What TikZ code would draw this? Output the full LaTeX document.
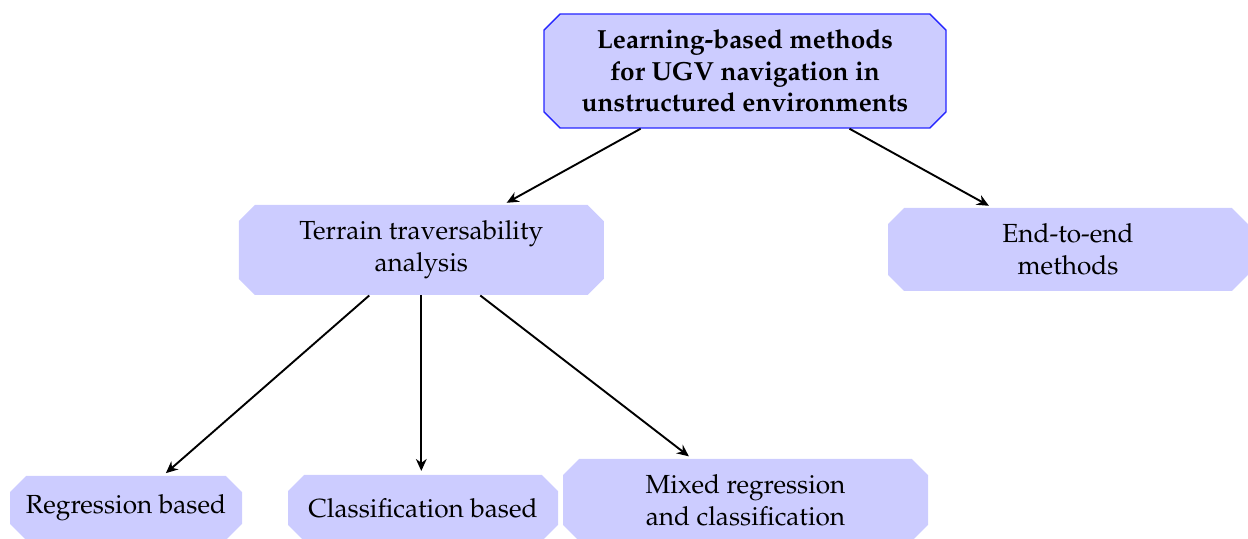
\documentclass[tikz,border=0pt]{standalone}
\usepackage[T1]{fontenc}
\usepackage{mathpazo}
\usetikzlibrary{shapes.misc,arrows.meta}
\begin{document}
\begin{tikzpicture}[x=0.42pt,y=-0.42pt,
  box/.style={chamfered rectangle, chamfered rectangle sep=3.4pt, fill=blue!20,
    align=center, inner sep=0pt, font=\fontsize{11}{13.4}\selectfont},
  rootbox/.style={box, draw=blue!85, semithick, font=\fontsize{11}{13.2}\selectfont\bfseries},
  link/.style={-{Stealth[length=5pt,width=4.5pt,inset=1.6pt]}, thick, shorten >=1.5pt}]
\useasboundingbox (0,0) rectangle (1248,539);
\node[rootbox, minimum width=402*0.42pt, minimum height=114*0.42pt] (root) at (745,71)
  {Learning-based methods\\ for UGV navigation in\\ unstructured environments};
\node[box, minimum width=365*0.42pt, minimum height=90*0.42pt] (terrain) at (421.3,250)
  {Terrain traversability\\ analysis};
\node[box, minimum width=360*0.42pt, minimum height=83*0.42pt] (e2e) at (1068,249.5)
  {End-to-end\\ methods};
\node[box, minimum width=232*0.42pt, minimum height=64*0.42pt] (reg) at (126,508)
  {Regression based};
\node[box, minimum width=270*0.42pt, minimum height=66*0.42pt] (cls) at (423,508)
  {Classification based};
\node[box, minimum width=365*0.42pt, minimum height=82*0.42pt] (mix) at (745.5,500)
  {Mixed regression\\ and classification};
\draw[link] (root) -- (terrain);
\draw[link] (root) -- (e2e);
\draw[link] (terrain) -- (reg);
\draw[link] (terrain.south) -- (terrain.south |- cls.north);
\draw[link] (terrain) -- (mix);
\end{tikzpicture}
\end{document}
